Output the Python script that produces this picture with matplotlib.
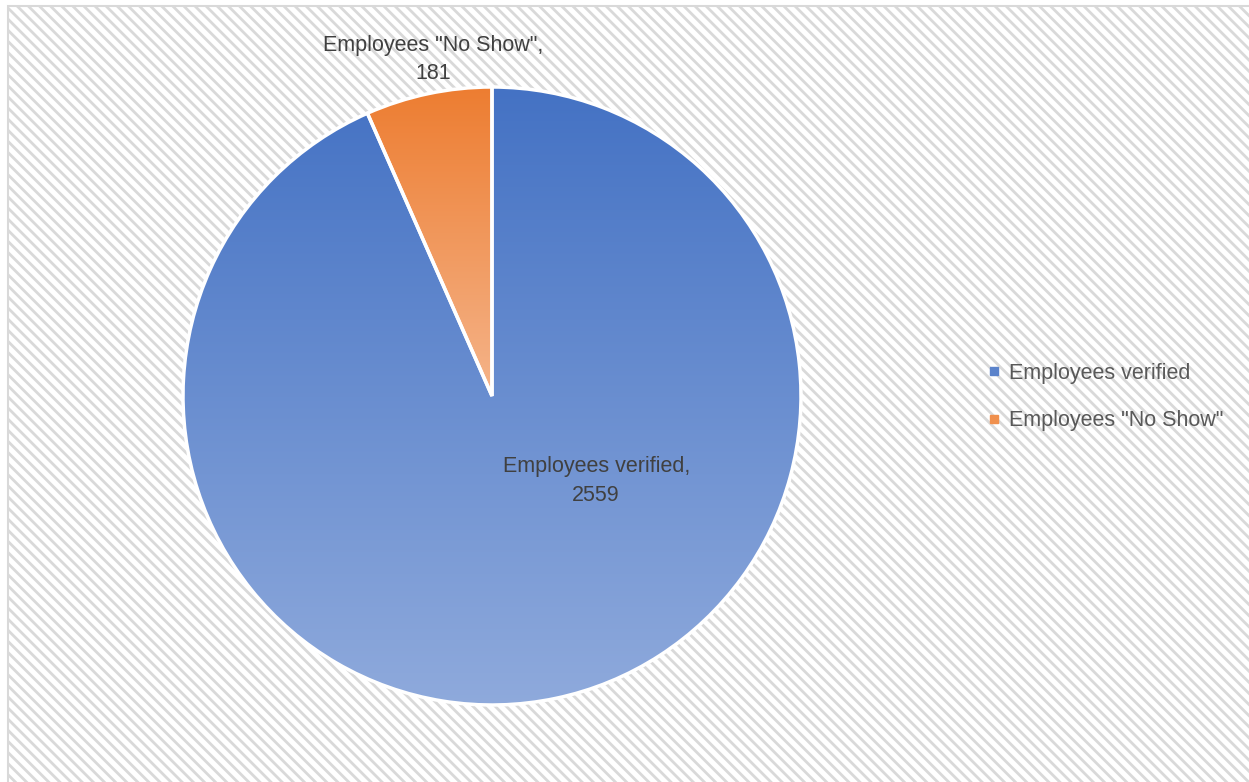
import numpy as np
import matplotlib.pyplot as plt
from matplotlib.patches import Rectangle
from matplotlib.lines import Line2D
from matplotlib.colors import LinearSegmentedColormap

# data
labels = ["Employees verified", 'Employees "No Show"']
values = [2559, 181]

# colours (top -> bottom gradient per slice)
grad_top = ["#4472C4", "#ED7D31"]
grad_bottom = ["#8FAADC", "#F5B48A"]
legend_colors = ["#5B83CB", "#F0904E"]

W, H = 1249, 782
plt.rcParams["font.family"] = ["Liberation Sans", "DejaVu Sans"]
plt.rcParams["hatch.color"] = "#e8e8e8"
plt.rcParams["hatch.linewidth"] = 2.0

fig = plt.figure(figsize=(W / 100, H / 100), dpi=100)

# background with diagonal stripes
bg = fig.add_axes([0, 0, 1, 1])
bg.set_xlim(0, W)
bg.set_ylim(H, 0)
bg.axis("off")
bg.add_patch(Rectangle((8, 6), W + 40, H + 40, facecolor="white",
                       edgecolor="#d9d9d9", hatch="\\\\\\", linewidth=1.5,
                       clip_on=False))

# pie axes: centre (492, 396) px, radius 309 px
cx, cy, r = 492, 396, 309
ax = fig.add_axes([(cx - r) / W, (H - cy - r) / H, 2 * r / W, 2 * r / H])
ax.set_xlim(-1, 1)
ax.set_ylim(-1, 1)
ax.axis("off")

wedges, _ = ax.pie(values, startangle=90, counterclock=False, radius=1,
                   colors=grad_top,
                   wedgeprops=dict(edgecolor="white", linewidth=2.5))

for w, c0, c1 in zip(wedges, grad_top, grad_bottom):
    path = w.get_path()
    verts = w.get_transform().transform(path.vertices)
    dv = ax.transData.inverted().transform(verts)
    ymin, ymax = dv[:, 1].min(), dv[:, 1].max()
    cmap = LinearSegmentedColormap.from_list("g", [c1, c0])
    grad = np.linspace(0, 1, 256).reshape(-1, 1)
    im = ax.imshow(grad, cmap=cmap, origin="lower", aspect="auto",
                   extent=(-1, 1, ymin, ymax), zorder=1.5)
    im.set_clip_path(w)
    w.set_facecolor("none")
    w.set_zorder(2)

ax.set_xlim(-1, 1)
ax.set_ylim(-1, 1)

ax.text(0.337, -0.275, "Employees verified,\n2559", ha="center", va="center",
        fontsize=15.5, color="#404040", linespacing=1.45, zorder=3)
ax.text(-0.19, 1.09, 'Employees "No Show",\n181', ha="center", va="center",
        fontsize=15.5, color="#404040", linespacing=1.45, zorder=3)

handles = [Line2D([], [], marker="s", linestyle="none", markersize=6,
                  markerfacecolor=c, markeredgecolor=c) for c in legend_colors]
fig.legend(handles, labels, loc="center left",
           bbox_to_anchor=(968 / W, 1 - 397 / H), frameon=False,
           fontsize=15.5, labelcolor="#595959", handlelength=0.6,
           handletextpad=0.4, labelspacing=1.25)

fig.savefig("out.png", dpi=100)
